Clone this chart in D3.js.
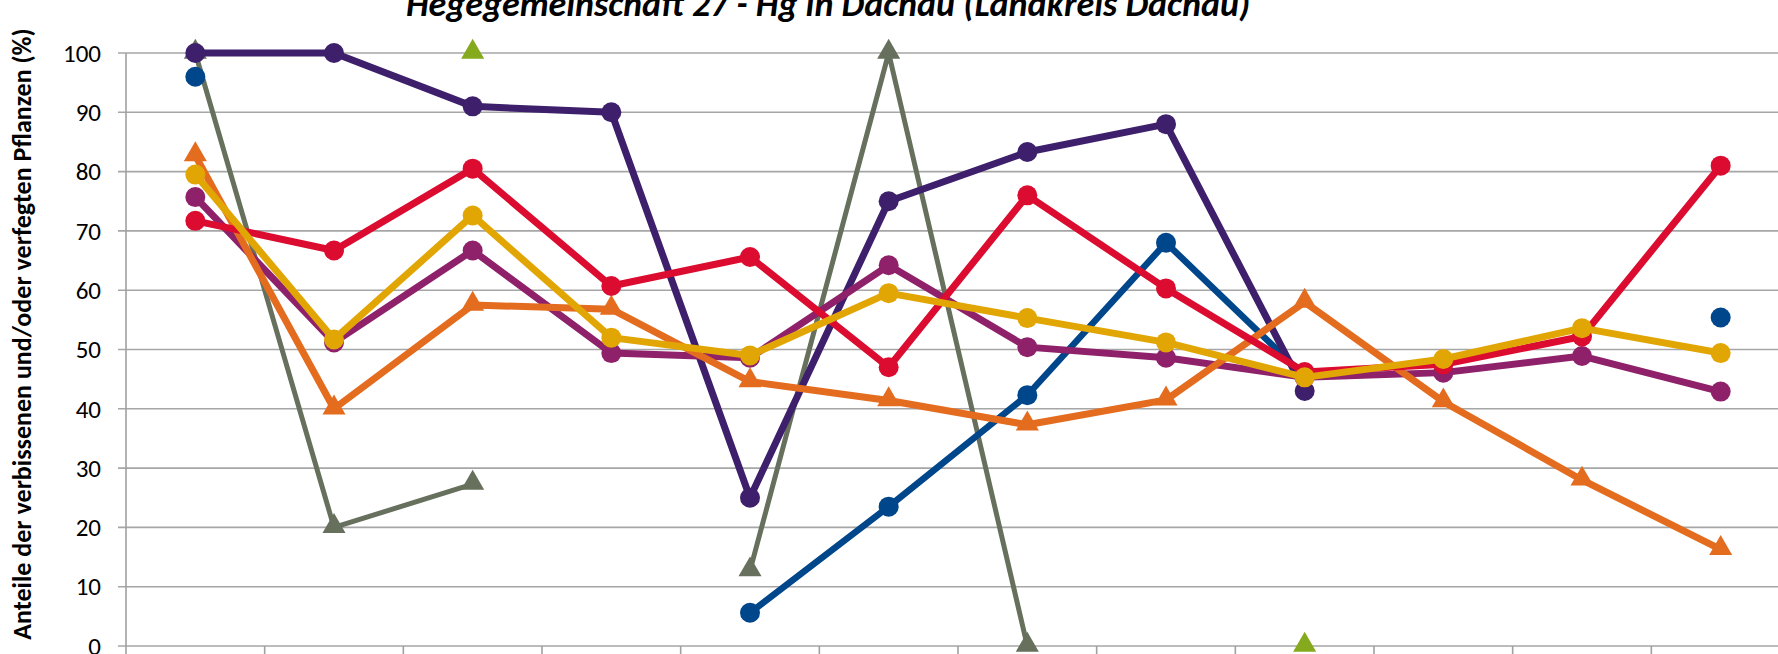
<!DOCTYPE html>
<html>
<head>
<meta charset="utf-8">
<script src="https://cdn.jsdelivr.net/npm/d3@7"></script>
<style>
  body { margin: 0; background: #fff; }
  svg { display: block; font-family: Carlito, Calibri, Lato, "Open Sans", sans-serif; }
</style>
</head>
<body>
<svg id="chart" width="1778" height="654"></svg>
<script>
// survey years (their labels sit below the visible picture)
var years = ["1991", "1994", "1997", "2000", "2003", "2006", "2009", "2012", "2015", "2018", "2021", "2024"];
var yTicks = [0, 10, 20, 30, 40, 50, 60, 70, 80, 90, 100];

var fichte    = [96, null, null, null, 5.6, 23.5, 42.3, 68, 45.5, null, null, 55.4];
var tanne     = [100, 100, 91, 90, 25, 75, 83.3, 88, 43, null, null, null];
var kiefer    = [100, 20, 27.3, null, 12.7, 100, 0, null, null, null, null, null];
var eiche     = [null, null, 100, null, null, null, null, null, 0, null, null, null];
var buche     = [75.7, 51.2, 66.7, 49.4, 48.6, 64.2, 50.4, 48.6, 45.3, 46.1, 48.9, 42.9];
var edellaub  = [82.7, 40, 57.5, 56.8, 44.6, 41.4, 37.3, 41.5, 58, 41.2, 28, 16.3];
var laubholz  = [71.7, 66.7, 80.5, 60.7, 65.6, 47, 76, 60.3, 46.2, 47.5, 52.2, 81];
var gesamt    = [79.5, 51.7, 72.6, 52, 49, 59.5, 55.3, 51.2, 45.3, 48.4, 53.6, 49.4];

var series = [
  {name: "Kiefer", values: kiefer, color: "#66705c", width: 5, marker: "triangle"},
  {name: "Eiche", values: eiche, color: "#86aa1e", width: 6, marker: "triangle"},
  {name: "Fichte", values: fichte, color: "#00468b", width: 6.5, marker: "circle"},
  {name: "Tanne", values: tanne, color: "#3d1f6b", width: 7, marker: "circle"},
  {name: "Buche", values: buche, color: "#8e2169", width: 7, marker: "circle"},
  {name: "Edellaubholz", values: edellaub, color: "#e46c1f", width: 7, marker: "triangle"},
  {name: "Sonstiges Laubholz", values: laubholz, color: "#dc0b30", width: 7, marker: "circle"},
  {name: "Gesamt", values: gesamt, color: "#e2a604", width: 7, marker: "circle"}
];

var svg = d3.select("#chart");
var plotLeft = 126, plotRight = 1790, plotTop = 53, plotBottom = 646;

var x = d3.scaleBand().domain(years).range([plotLeft, plotRight]);
var y = d3.scaleLinear().domain([0, 100]).range([plotBottom, plotTop]);

// grid lines
svg.append("g")
  .selectAll("line")
  .data(yTicks)
  .join("line")
  .attr("x1", plotLeft - 8)
  .attr("x2", plotRight)
  .attr("y1", d => y(d))
  .attr("y2", d => y(d))
  .attr("stroke", "#a6a6a6")
  .attr("stroke-width", 1.6);

// y axis line and labels
svg.append("line")
  .attr("x1", plotLeft).attr("x2", plotLeft)
  .attr("y1", plotTop).attr("y2", plotBottom)
  .attr("stroke", "#a0a0a0").attr("stroke-width", 1.6);

svg.append("g")
  .selectAll("text")
  .data(yTicks)
  .join("text")
  .attr("x", plotLeft - 25)
  .attr("y", d => y(d))
  .attr("dy", "0.35em")
  .attr("text-anchor", "end")
  .attr("font-size", 25)
  .attr("fill", "#000")
  .text(d => d);

// tick marks between the categories
svg.append("g")
  .selectAll("line")
  .data(years)
  .join("line")
  .attr("x1", d => x(d))
  .attr("x2", d => x(d))
  .attr("y1", plotBottom)
  .attr("y2", plotBottom + 10)
  .attr("stroke", "#a0a0a0")
  .attr("stroke-width", 1.6);

// series
var line = d3.line()
  .defined(d => d.v != null)
  .x(d => x(d.year) + x.bandwidth() / 2)
  .y(d => y(d.v));

var tri = d3.symbol().type(d3.symbolTriangle).size(230);

series.forEach(function(s) {
  var pts = s.values.map((v, i) => ({year: years[i], v: v}));
  var g = svg.append("g");

  g.append("path")
    .attr("d", line(pts))
    .attr("fill", "none")
    .attr("stroke", s.color)
    .attr("stroke-width", s.width)
    .attr("stroke-linejoin", "round");

  var marks = pts.filter(d => d.v != null);
  if (s.marker == "circle") {
    g.selectAll("circle")
      .data(marks)
      .join("circle")
      .attr("cx", d => x(d.year) + x.bandwidth() / 2)
      .attr("cy", d => y(d.v))
      .attr("r", 10)
      .attr("fill", s.color);
  } else {
    g.selectAll("path.m")
      .data(marks)
      .join("path")
      .attr("class", "m")
      .attr("d", tri)
      .attr("transform", d => `translate(${x(d.year) + x.bandwidth() / 2}, ${y(d.v) - 1})`)
      .attr("fill", s.color);
  }
});

// titles
svg.append("text")
  .attr("x", 828)
  .attr("y", 16)
  .attr("text-anchor", "middle")
  .attr("font-size", 36)
  .attr("font-weight", "bold")
  .attr("font-style", "italic")
  .text("Hegegemeinschaft 27 - Hg in Dachau (Landkreis Dachau)");

svg.append("text")
  .attr("transform", "translate(31, 334) rotate(-90)")
  .attr("text-anchor", "middle")
  .attr("font-size", 26)
  .attr("font-weight", "bold")
  .text("Anteile der verbissenen und/oder verfegten Pflanzen (%)");
</script>
</body>
</html>
